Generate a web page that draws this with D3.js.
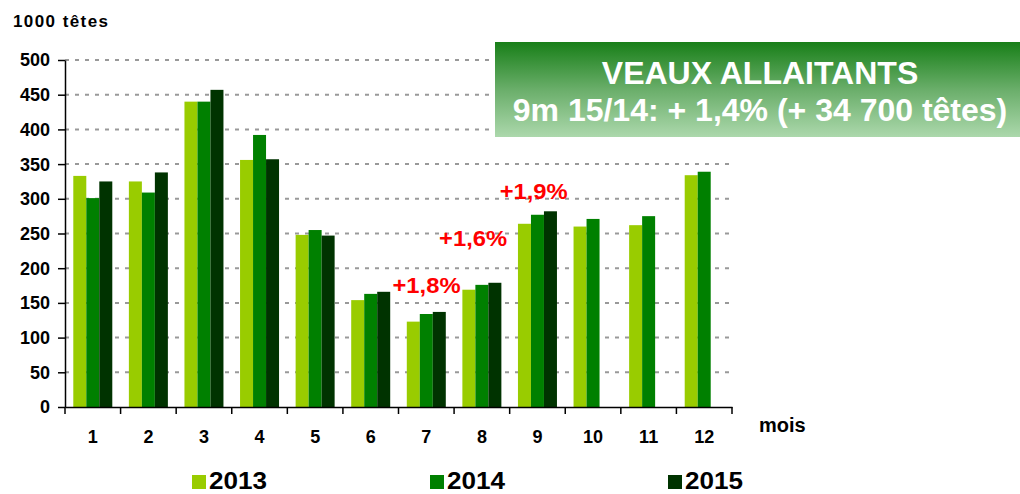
<!DOCTYPE html>
<html>
<head>
<meta charset="utf-8">
<script src="https://cdnjs.cloudflare.com/ajax/libs/d3/7.8.5/d3.min.js"></script>
<style>
  body { margin: 0; background: #fff; }
  svg { font-family: "Liberation Sans", Arial, sans-serif; font-weight: bold; }
</style>
</head>
<body>
<script>
// data (1000 têtes per month)
var months = ['1','2','3','4','5','6','7','8','9','10','11','12'];
var years = ['2013','2014','2015'];
var v2013 = [333, 325, 440, 356, 248, 154, 123, 169, 264, 260, 262, 334];
var v2014 = [301, 309, 440, 392, 255, 163, 134, 176, 277, 271, 275, 339];
var v2015 = [325, 338, 457, 357, 247, 166, 137, 179, 282];
var yTicks = [0, 50, 100, 150, 200, 250, 300, 350, 400, 450, 500];
var colors = ['#99cc00', '#008000', '#003300'];
var notes = [
  { month: '7', label: '+1,8%', v: 164, dx: -6 },
  { month: '8', label: '+1,6%', v: 232, dx: -15 },
  { month: '9', label: '+1,9%', v: 300, dx: -10 }
];

var series = [v2013, v2014, v2015];

var svg = d3.select('body')
  .append('svg')
  .attr('width', 1020)
  .attr('height', 494);

var x = d3.scaleBand().domain(months).range([65, 732]);
var xSub = d3.scaleBand().domain(years).range([0, 39]);
var y = d3.scaleLinear().domain([0, 500]).range([407, 60]);

// gridlines
svg.selectAll('line.grid')
  .data(yTicks.filter(function(d) { return d > 0; }))
  .enter().append('line')
  .attr('class', 'grid')
  .attr('x1', 65)
  .attr('x2', 732)
  .attr('y1', function(d) { return y(d); })
  .attr('y2', function(d) { return y(d); })
  .attr('stroke', '#999')
  .attr('stroke-width', 2)
  .attr('stroke-dasharray', '4,6');

// bars
var flat = [];
series.forEach(function(vals, s) {
  vals.forEach(function(v, i) {
    flat.push({ month: months[i], year: years[s], s: s, v: v });
  });
});

var offset = (x.bandwidth() - 39) / 2;
svg.selectAll('rect.bar')
  .data(flat)
  .enter().append('rect')
  .attr('class', 'bar')
  .attr('x', function(d) { return x(d.month) + offset + xSub(d.year); })
  .attr('width', xSub.bandwidth())
  .attr('y', function(d) { return y(d.v); })
  .attr('height', function(d) { return y(0) - y(d.v); })
  .attr('fill', function(d) { return colors[d.s]; });

// axes
var yAxis = svg.append('g')
  .attr('transform', 'translate(65,0)')
  .call(d3.axisLeft(y).tickValues(yTicks).tickSize(7).tickSizeOuter(0).tickPadding(8));
var xAxis = svg.append('g')
  .attr('transform', 'translate(0,407)')
  .call(d3.axisBottom(x).tickSize(0).tickPadding(0));

yAxis.select('.domain').attr('stroke', '#000').attr('stroke-width', 1.5);
yAxis.selectAll('line').attr('stroke', '#000').attr('stroke-width', 1.5);
yAxis.selectAll('text')
  .attr('font-size', 18)
  .attr('font-family', '"Liberation Sans", Arial, sans-serif')
  .attr('font-weight', 'bold')
  .attr('fill', '#000')
  .attr('dy', '0.33em');

xAxis.select('.domain').attr('stroke', '#000').attr('stroke-width', 1.5);
xAxis.selectAll('text')
  .attr('font-size', 18)
  .attr('font-family', '"Liberation Sans", Arial, sans-serif')
  .attr('font-weight', 'bold')
  .attr('fill', '#000')
  .attr('y', 36)
  .attr('dy', 0);

// x ticks between categories
var edges = months.map(function(m) { return x(m); }).concat([x.range()[1]]);
svg.selectAll('line.xtick')
  .data(edges)
  .enter().append('line')
  .attr('class', 'xtick')
  .attr('x1', function(d) { return d; })
  .attr('x2', function(d) { return d; })
  .attr('y1', 407)
  .attr('y2', 414)
  .attr('stroke', '#000')
  .attr('stroke-width', 1.5);

// axis titles
svg.append('text')
  .attr('x', 13)
  .attr('y', 27)
  .attr('font-size', 17)
  .attr('textLength', 95)
  .text('1000 têtes');

svg.append('text')
  .attr('x', 759)
  .attr('y', 432)
  .attr('font-size', 20)
  .text('mois');

// red annotations
svg.selectAll('text.note')
  .data(notes)
  .enter().append('text')
  .attr('class', 'note')
  .attr('x', function(d) { return x(d.month) + d.dx; })
  .attr('y', function(d) { return y(d.v); })
  .attr('font-size', 22)
  .attr('textLength', 68)
  .attr('lengthAdjust', 'spacingAndGlyphs')
  .attr('fill', '#ff0000')
  .text(function(d) { return d.label; });

// title box
var defs = svg.append('defs');
var grad = defs.append('linearGradient')
  .attr('id', 'titleGrad')
  .attr('x1', 0).attr('y1', 0).attr('x2', 0).attr('y2', 1);
grad.append('stop').attr('offset', '0%').attr('stop-color', '#187f18');
grad.append('stop').attr('offset', '50%').attr('stop-color', '#6aae6a');
grad.append('stop').attr('offset', '100%').attr('stop-color', '#acd8ac');

svg.append('rect')
  .attr('x', 495)
  .attr('y', 42)
  .attr('width', 525)
  .attr('height', 95)
  .attr('fill', 'url(#titleGrad)');

svg.append('text')
  .attr('x', 760)
  .attr('y', 84)
  .attr('text-anchor', 'middle')
  .attr('font-size', 32)
  .attr('fill', '#fff')
  .text('VEAUX ALLAITANTS');

svg.append('text')
  .attr('x', 760)
  .attr('y', 121)
  .attr('text-anchor', 'middle')
  .attr('font-size', 32)
  .attr('fill', '#fff')
  .text('9m 15/14: + 1,4% (+ 34 700 têtes)');

// legend
var legend = svg.selectAll('g.legend')
  .data(years)
  .enter().append('g')
  .attr('class', 'legend')
  .attr('transform', function(d, i) { return 'translate(' + (192 + i * 238) + ',475)'; });

legend.append('rect')
  .attr('width', 14)
  .attr('height', 14)
  .attr('fill', function(d, i) { return colors[i]; });

legend.append('text')
  .attr('x', 17)
  .attr('y', 14)
  .attr('font-size', 23)
  .attr('textLength', 58)
  .attr('lengthAdjust', 'spacingAndGlyphs')
  .text(function(d) { return d; });
</script>
</body>
</html>
